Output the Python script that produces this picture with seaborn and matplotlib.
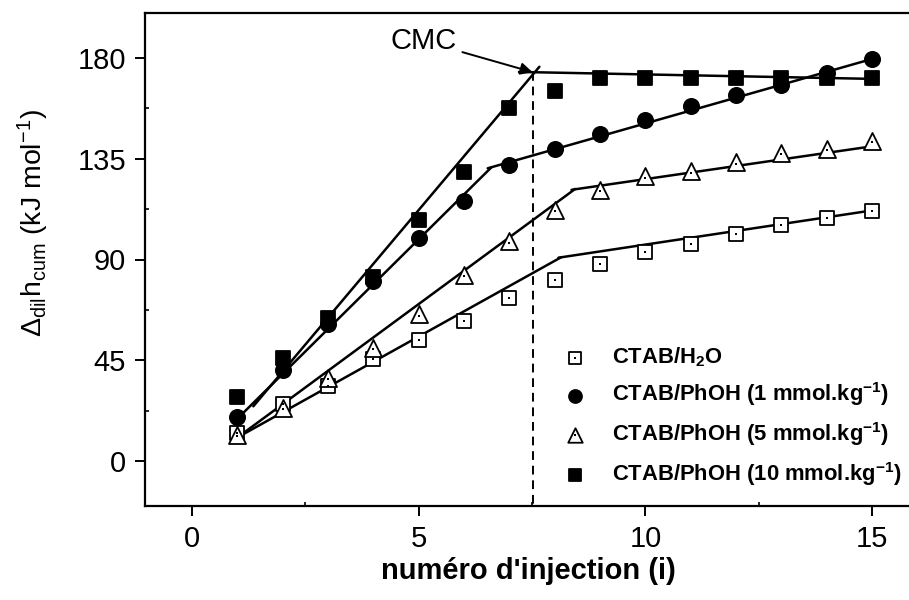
import numpy as np
import pandas as pd
import matplotlib
matplotlib.use('Agg')
import matplotlib.pyplot as plt
import seaborn as sns
from matplotlib.legend_handler import HandlerTuple

# 数据
injection = np.arange(1, 16)
h2o = [12.7, 25.3, 33.5, 45.5, 54.0, 62.6, 72.7, 80.8, 87.9, 93.4, 96.9, 101.3, 105.4, 108.4, 111.5]
phoh_1 = [19.7, 40.5, 61.1, 80.2, 99.4, 116.2, 132.3, 139.3, 146.0, 152.3, 158.4, 163.2, 167.9, 173.3, 179.3]
phoh_5 = [11.9, 23.9, 37.3, 50.7, 65.6, 83.2, 98.1, 112.2, 121.1, 127.1, 129.4, 133.4, 137.5, 139.3, 143.1]
phoh_10 = [28.6, 46.2, 64.1, 82.4, 107.7, 128.9, 157.5, 165.4, 170.9, 170.9, 170.9, 170.9, 170.9, 170.9, 170.9]

# 拟合直线（每条两段，分别给出端点）
fit_h2o = [([1.0, 8.14], [10.6, 91.0]), ([8.08, 15.1], [90.8, 112.2])]
fit_1 = [([1.0, 6.6], [19.0, 131.1]), ([6.52, 15.0], [130.7, 179.5])]
fit_5 = [([1.0, 8.45], [10.6, 121.5]), ([8.37, 15.1], [121.1, 140.8])]
fit_10 = [([1.35, 7.66], [24.5, 176.0]), ([7.21, 15.0], [173.7, 170.6])]

cmc_x = 7.51
cmc_y = 173.6

labels = [r'CTAB/H$_{\mathbf{2}}$O',
          r'CTAB/PhOH (1 mmol.kg$^{\mathbf{-1}}$)',
          r'CTAB/PhOH (5 mmol.kg$^{\mathbf{-1}}$)',
          r'CTAB/PhOH (10 mmol.kg$^{\mathbf{-1}}$)']

sns.set_style('ticks')
plt.rcParams['font.family'] = ['Liberation Sans', 'DejaVu Sans']
plt.rcParams['mathtext.fontset'] = 'custom'
plt.rcParams['mathtext.rm'] = 'Liberation Sans'
plt.rcParams['mathtext.it'] = 'Liberation Sans:italic'
plt.rcParams['mathtext.bf'] = 'Liberation Sans:bold'
plt.rcParams['text.color'] = 'black'
plt.rcParams['axes.labelcolor'] = 'black'
plt.rcParams['xtick.color'] = 'black'
plt.rcParams['ytick.color'] = 'black'

fig = plt.figure(figsize=(9.09, 6.0), dpi=100)
ax = fig.add_axes([145 / 909, 94 / 600, 767 / 909, 493 / 600])

# 拟合线
for segs in [fit_h2o, fit_1, fit_5, fit_10]:
    for fx, fy in segs:
        sns.lineplot(x=fx, y=fy, ax=ax, color='black', linewidth=1.8, sort=False, zorder=2)

# CMC 虚线
ax.plot([cmc_x, cmc_x], [cmc_y, -20], color='black', linestyle=(0, (4.5, 3)), linewidth=1.4, zorder=1)

series = [h2o, phoh_1, phoh_5, phoh_10]
markers = ['s', 'o', '^', 's']
sizes = [92, 120, 150, 100]
faces = ['white', 'black', 'white', 'black']
handles = []
for vals, m, s, fc in zip(series, markers, sizes, faces):
    sns.scatterplot(x=injection, y=vals, ax=ax, marker=m, s=s, color=fc,
                    edgecolor='black', linewidth=1.3, zorder=3)
    parts = [ax.collections[-1]]
    if fc == 'white':
        # 空心标记中心的小点
        yv = np.array(vals)
        if m == '^':
            yv = yv - 0.6
        sns.scatterplot(x=injection, y=yv, ax=ax, marker='s', s=2, color='black',
                        linewidth=0, zorder=4)
        parts.append(ax.collections[-1])
    handles.append(tuple(parts))

ax.set_xlim(-1.04, 15.88)
ax.set_ylim(-20, 200)
ax.set_xticks([0, 5, 10, 15])
ax.set_xticks([2.5, 7.5, 12.5], minor=True)
ax.set_yticks([0, 45, 90, 135, 180])
ax.set_yticks([22.5, 67.5, 112.5, 157.5], minor=True)
ax.tick_params(which='major', direction='out', length=7.5, width=1.4, labelsize=21, pad=6)
ax.tick_params(which='minor', direction='in', length=3, width=1.2)
for sp in ax.spines.values():
    sp.set_linewidth(1.6)
    sp.set_color('black')

ax.set_xlabel("numéro d'injection (i)", fontsize=21, fontweight='bold', labelpad=3)
ax.set_ylabel(r'$\Delta_{\mathrm{dil}}\mathrm{h}_{\mathrm{cum}}$ (kJ mol$^{\mathrm{-1}}$)', fontsize=20.5)
ax.yaxis.set_label_coords(-0.122, 0.574)

ax.annotate('CMC', xy=(cmc_x, cmc_y), xytext=(5.1, 187.5), fontsize=21,
            ha='center', va='center',
            arrowprops=dict(arrowstyle='-|>', color='black', lw=1.4,
                            shrinkA=2, shrinkB=0, mutation_scale=18))

leg = ax.legend(handles, labels, loc='upper left', bbox_to_anchor=(0.521, 0.366),
                frameon=False, prop={'size': 15.8, 'weight': 'bold'},
                handler_map={tuple: HandlerTuple(ndivide=1, pad=0)},
                handlelength=1.0, handletextpad=1.15, labelspacing=0.53,
                borderpad=0.4, markerscale=0.85)

fig.savefig('out.png', dpi=100)
